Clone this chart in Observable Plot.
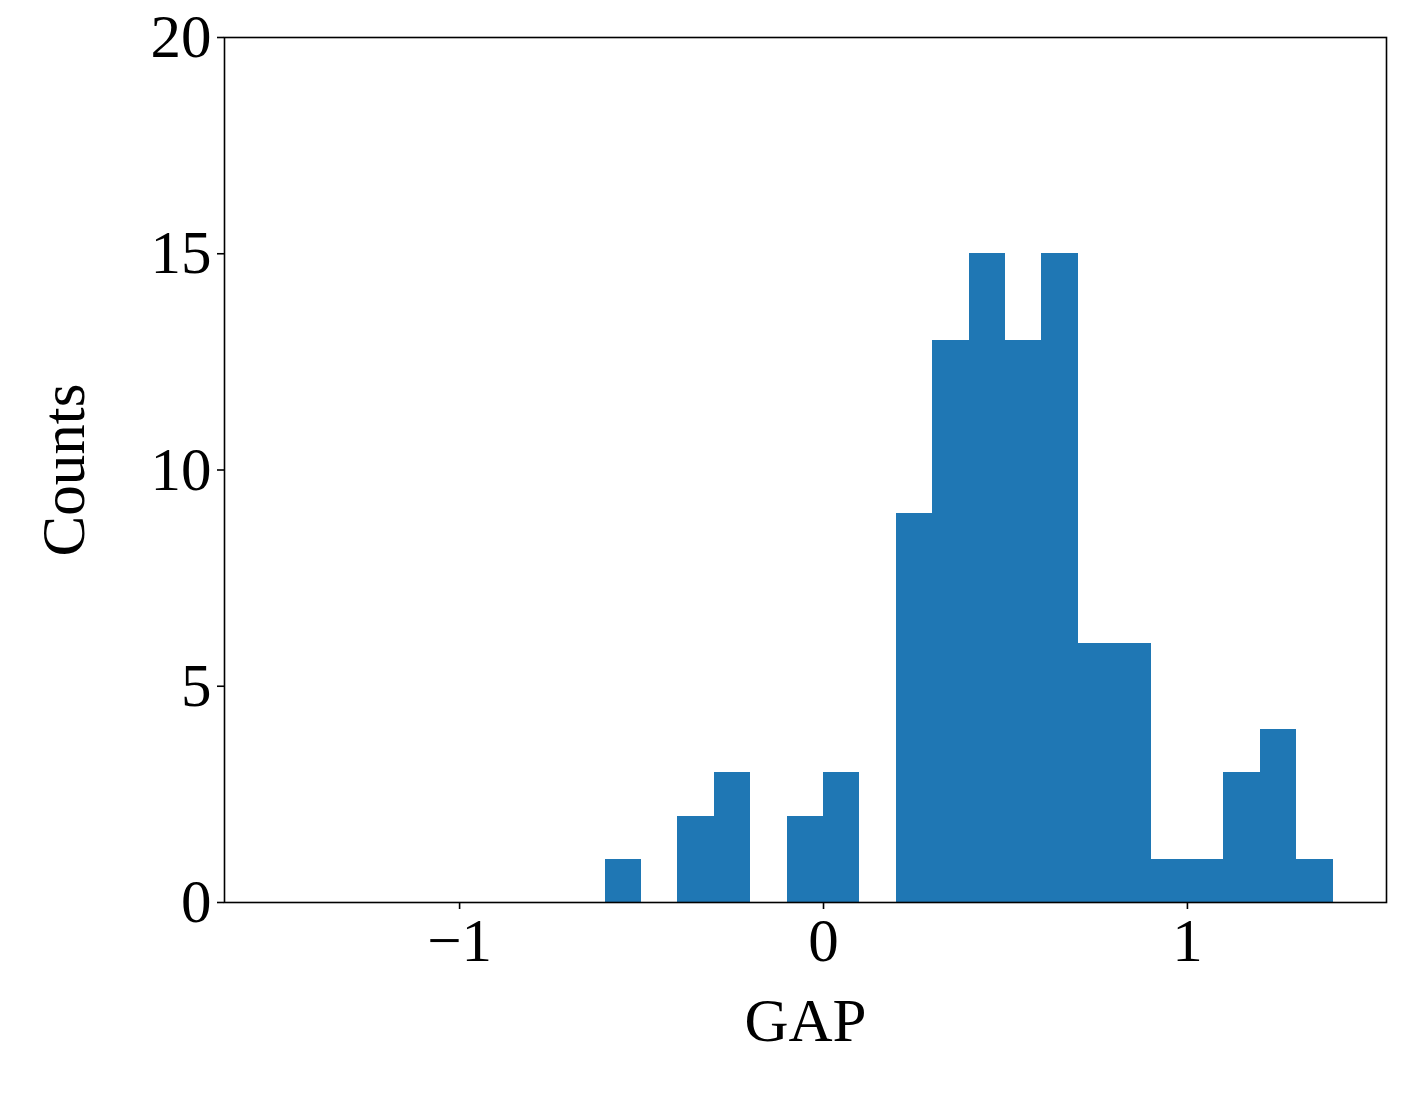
<!DOCTYPE html>
<html>
<head>
<meta charset="utf-8">
<script src="https://cdn.jsdelivr.net/npm/d3@7"></script>
<script src="https://cdn.jsdelivr.net/npm/@observablehq/plot@0.6"></script>
<style>
  body { margin: 0; background: #fff; }
  svg text { font-family: "Liberation Serif", "Times New Roman", Times, serif; }
</style>
</head>
<body>
<div id="chart"></div>
<script>
const binStarts = [-0.6, -0.4, -0.3, -0.1, 0.0, 0.2, 0.3, 0.4, 0.5, 0.6, 0.7, 0.8, 0.9, 1.0, 1.1, 1.2, 1.3];
const counts    = [1, 2, 3, 2, 3, 9, 13, 15, 13, 15, 6, 6, 1, 1, 3, 4, 1];
const binWidth = 0.1;
const xTicks = [-1, 0, 1];
const yTicks = [0, 5, 10, 15, 20];

const data = binStarts.map((s, i) => ({x1: s, x2: +(s + binWidth).toFixed(2), y: counts[i]}));
const fmt = d => d < 0 ? "\u2212" + Math.abs(d) : String(d);

const chart = Plot.plot({
  width: 1401,
  height: 1099,
  marginLeft: 224,
  marginRight: 15,
  marginTop: 37,
  marginBottom: 197,
  style: {fontFamily: "\"Liberation Serif\", \"Times New Roman\", Times, serif", fontSize: "61px", background: "#fff", color: "#000"},
  x: {domain: [-1.646, 1.547]},
  y: {domain: [0, 20]},
  marks: [
    Plot.rectY(data, {x1: "x1", x2: "x2", y1: 0, y2: "y", fill: "#1f77b4", inset: 0, shapeRendering: "crispEdges"}),
    Plot.frame({stroke: "#000", strokeWidth: 1.6}),
    Plot.axisX({ticks: xTicks, tickFormat: fmt, tickSize: 7, tickPadding: 8, stroke: "#000", strokeWidth: 1.6, label: "GAP", labelAnchor: "center", labelOffset: 138, labelArrow: "none"}),
    Plot.axisY({ticks: yTicks, tickSize: 7, tickPadding: 6, stroke: "#000", strokeWidth: 1.6, label: "Counts", labelAnchor: "center", labelOffset: 184, labelArrow: "none"})
  ]
});
document.getElementById("chart").appendChild(chart);
</script>
</body>
</html>
